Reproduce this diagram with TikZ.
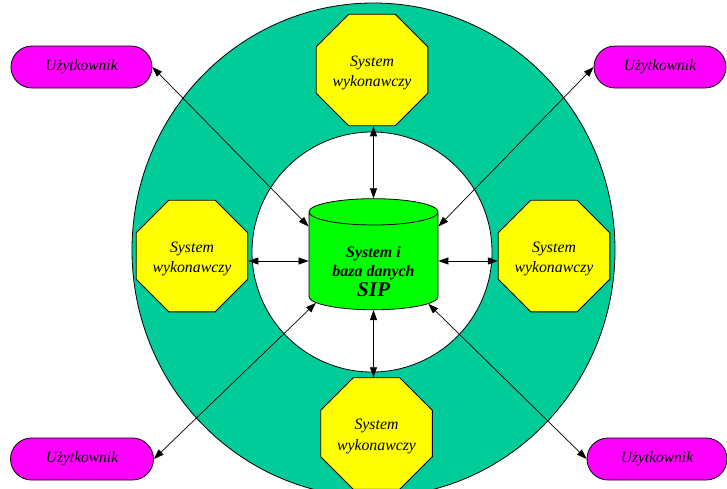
\documentclass[tikz,border=0pt]{standalone}
\usepackage{fontspec}
\setmainfont{Liberation Serif}
\usetikzlibrary{shapes.geometric,shapes.misc,arrows.meta}
\definecolor{ringteal}{RGB}{0,204,153}
\definecolor{usermag}{RGB}{255,0,255}
\definecolor{octyellow}{RGB}{255,255,0}
\definecolor{cylgreen}{RGB}{0,255,0}
\begin{document}
\begin{tikzpicture}[x=1pt,y=-1pt,
  user/.style={rounded rectangle, draw, line width=0.8pt, fill=usermag, minimum height=42pt, inner sep=0pt,
    font=\fontsize{15.5}{18}\selectfont\itshape},
  octa/.style={regular polygon, regular polygon sides=8, draw, line width=0.8pt, fill=octyellow,
    minimum size=117pt, inner sep=0pt, align=center, font=\fontsize{15.8}{20.5}\selectfont\itshape},
  dbase/.style={cylinder, shape border rotate=90, draw, line width=0.8pt, fill=cylgreen,
    minimum width=129pt, minimum height=109pt, aspect=0.32, inner sep=0pt, align=center,
    font=\fontsize{16}{19}\selectfont\bfseries\itshape},
  link/.style={{Triangle[length=10pt,width=7pt]}-{Triangle[length=10pt,width=7pt]}, line width=0.7pt}]
\useasboundingbox (0,0) rectangle (727,488);
\clip (0,0) rectangle (727,488);
\draw[fill=ringteal, line width=0.8pt] (373.5,250) ellipse [x radius=241.5pt, y radius=247pt];
\draw[fill=white, line width=0.8pt] (372,252) circle [radius=120pt];

\node[dbase] (cyl) at (373.5,261) {\rule{0pt}{32pt}System i\\baza danych\\[1pt]{\fontsize{21}{22}\selectfont SIP}};

\node[octa] (top) at (372,70) {\rule{0pt}{16pt}System\\wykonawczy};
\node[octa] (left) at (192,256) {\rule{0pt}{16pt}System\\wykonawczy};
\node[octa] (right) at (554,256) {\rule{0pt}{16pt}System\\wykonawczy};
\node[octa] (bot) at (376.5,433.5) {\rule{0pt}{16pt}System\\wykonawczy};

\node[user, minimum width=141pt] (u1) at (81.5,67) {Użytkownik\hspace{14pt}};
\node[user, minimum width=132pt] (u2) at (660,67) {Użytkownik};
\node[user, minimum width=143pt] (u3) at (82,459) {Użytkownik\hspace{5pt}};
\node[user, minimum width=140pt] (u4) at (657,459) {Użytkownik\hspace{4pt}};

\draw[link] (cyl.north) -- (cyl.north |- top.south);
\draw[link] (cyl.south) -- (cyl.south |- bot.north);
\draw[link] (cyl.west) -- (left.east |- cyl.west);
\draw[link] (cyl.east) -- (right.west |- cyl.east);
\draw[link] (cyl.152) -- (u1.east);
\draw[link] (cyl.28) -- (u2.west);
\draw[link] (cyl.216) -- (u3.east);
\draw[link] (cyl.322) -- (u4.west);
\end{tikzpicture}
\end{document}
